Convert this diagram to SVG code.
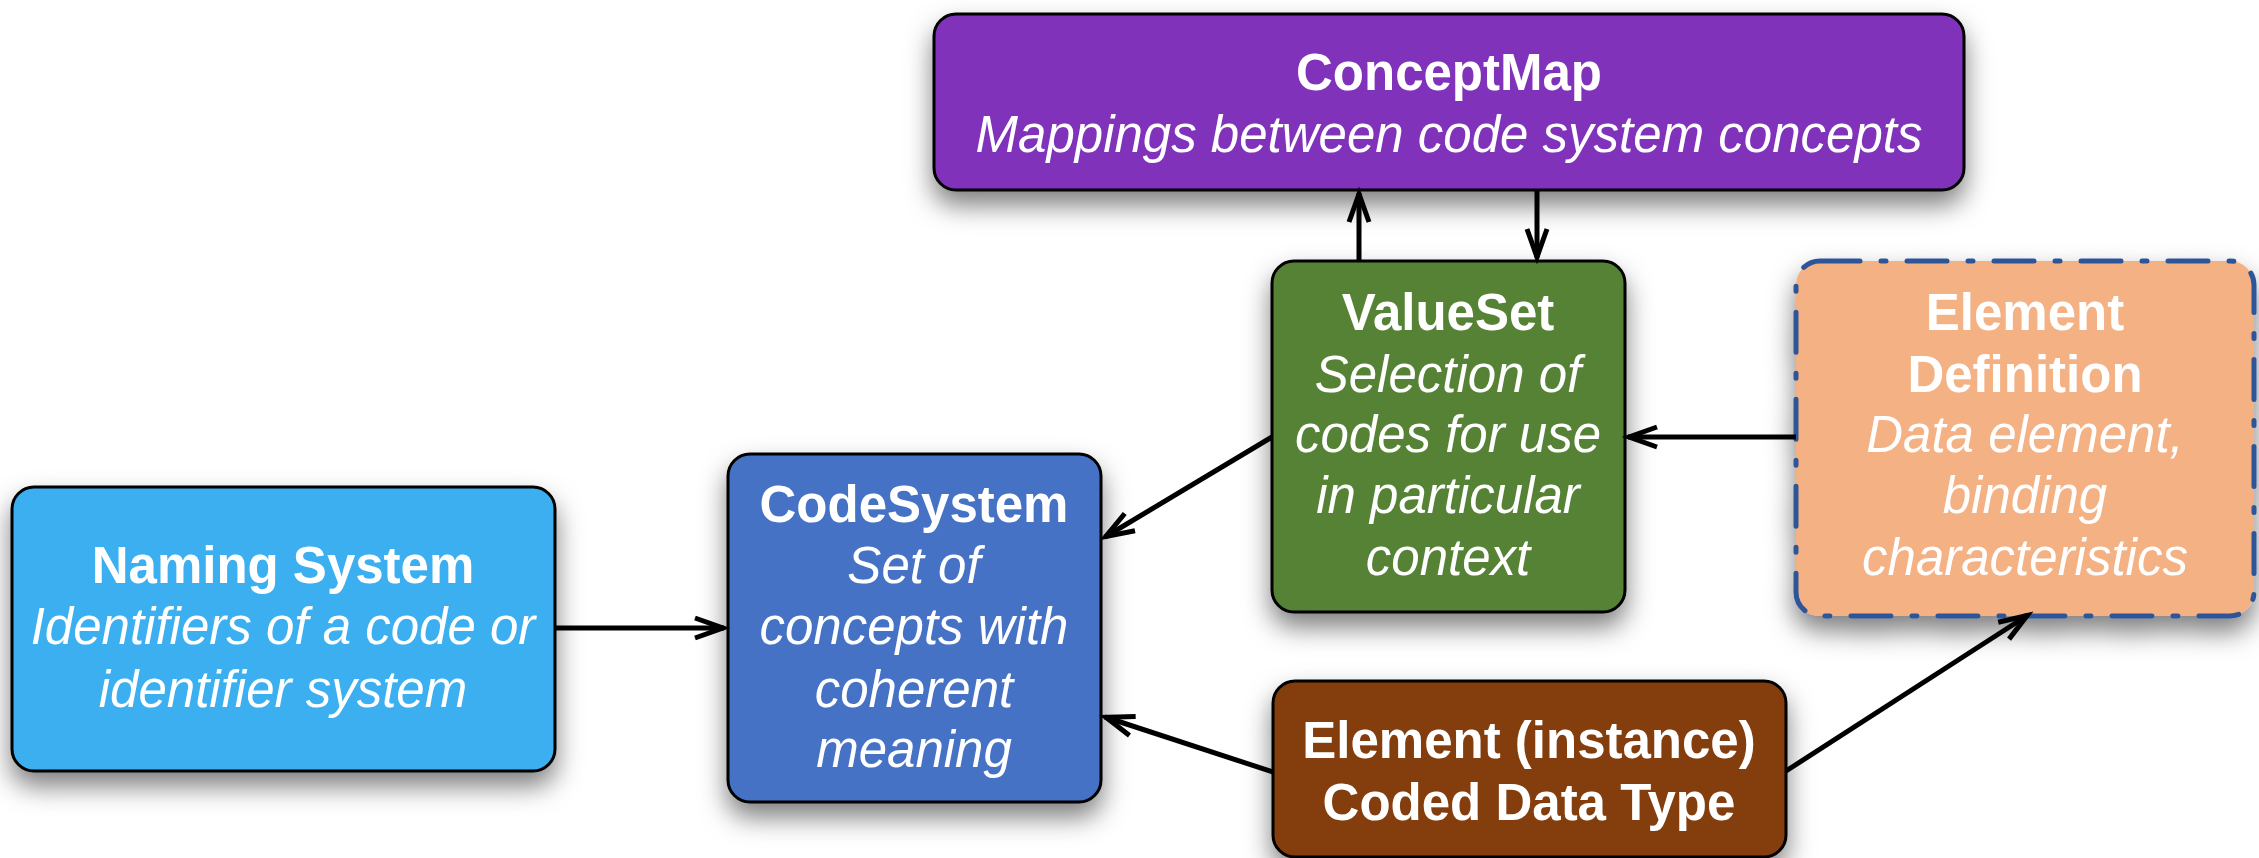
<svg xmlns="http://www.w3.org/2000/svg" width="2259" height="858" viewBox="0 0 2259 858">
<style>
.box{stroke:#000;stroke-width:3}
.t{font-family:"Liberation Sans",Arial,Helvetica,sans-serif;font-size:51px;fill:#fff;text-anchor:middle}
.b{font-weight:bold}
.i{font-style:italic}
.c{fill:none;stroke:#000;stroke-width:5}
</style>
<defs>
<filter id="sh" x="-20%" y="-20%" width="140%" height="160%">
<feDropShadow dx="0" dy="14" stdDeviation="13" flood-color="#000" flood-opacity="0.5"/>
</filter>
<marker id="ar" markerUnits="userSpaceOnUse" markerWidth="50" markerHeight="40" viewBox="-40 -20 50 40" refX="1" refY="0" orient="auto">
<path d="M -28 -10 L 0 0 L -28 10" fill="none" stroke="#000" stroke-width="5"/>
</marker>
</defs>
<rect width="2259" height="858" fill="#fff"/>

<g id="conceptmap">
<rect class="box" x="934" y="14" width="1030" height="176" rx="22" fill="#8033BB" filter="url(#sh)"/>
<text class="t b" x="1449" y="90">ConceptMap</text>
<text class="t i" x="1449" y="152">Mappings between code system concepts</text>
</g>

<g id="valueset">
<rect class="box" x="1272" y="261" width="353" height="351" rx="22" fill="#548235" filter="url(#sh)"/>
<text class="t b" x="1448" y="330">ValueSet</text>
<text class="t i" x="1448" y="392">Selection of</text>
<text class="t i" x="1448" y="452">codes for use</text>
<text class="t i" x="1448" y="513">in particular</text>
<text class="t i" x="1448" y="575">context</text>
</g>

<g id="elementdefinition">
<rect x="1796" y="261" width="458" height="355" rx="24" fill="#F4B183" stroke="#2F5597" stroke-width="5" stroke-linecap="round" stroke-dasharray="40 21 5 21" filter="url(#sh)"/>
<text class="t b" x="2025" y="330">Element</text>
<text class="t b" x="2025" y="392">Definition</text>
<text class="t i" x="2025" y="452">Data element,</text>
<text class="t i" x="2025" y="513">binding</text>
<text class="t i" x="2025" y="575">characteristics</text>
</g>

<g id="codesystem">
<rect class="box" x="728" y="454" width="373" height="348" rx="22" fill="#4472C4" filter="url(#sh)"/>
<text class="t b" x="914" y="522">CodeSystem</text>
<text class="t i" x="914" y="583">Set of</text>
<text class="t i" x="914" y="644">concepts with</text>
<text class="t i" x="914" y="707">coherent</text>
<text class="t i" x="914" y="767">meaning</text>
</g>

<g id="namingsystem">
<rect class="box" x="12" y="487" width="543" height="284" rx="22" fill="#3BAFEF" filter="url(#sh)"/>
<text class="t b" x="283" y="583">Naming System</text>
<text class="t i" x="283" y="644">Identifiers of a code or</text>
<text class="t i" x="283" y="707">identifier system</text>
</g>

<g id="elementinstance">
<rect class="box" x="1273" y="681" width="513" height="176" rx="22" fill="#843C0C" filter="url(#sh)"/>
<text class="t b" x="1529" y="758">Element (instance)</text>
<text class="t b" x="1529" y="820">Coded Data Type</text>
</g>

<g id="connectors">
<line class="c" x1="1359" y1="261" x2="1359" y2="193" marker-end="url(#ar)"/>
<line class="c" x1="1537" y1="190" x2="1537" y2="258" marker-end="url(#ar)"/>
<line class="c" x1="1796" y1="437" x2="1628" y2="437" marker-end="url(#ar)"/>
<line class="c" x1="1272" y1="437" x2="1105" y2="537" marker-end="url(#ar)"/>
<line class="c" x1="1273" y1="772" x2="1105" y2="717" marker-end="url(#ar)"/>
<line class="c" x1="555" y1="628" x2="724" y2="628" marker-end="url(#ar)"/>
<line class="c" x1="1786" y1="771" x2="2028" y2="615" marker-end="url(#ar)"/>
</g>
</svg>
